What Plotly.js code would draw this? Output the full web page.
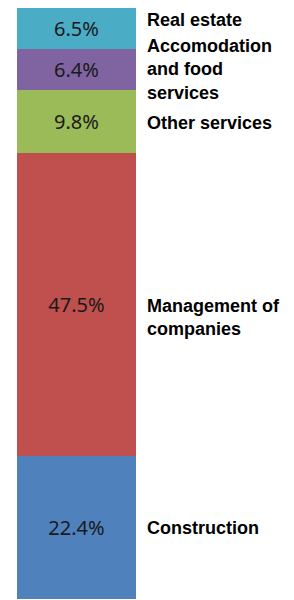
<!DOCTYPE html>
<html>
<head>
<meta charset="utf-8">
<script src="https://cdn.plot.ly/plotly-3.0.1.min.js"></script>
<style>html,body{margin:0;padding:0;background:#fff;}#chart{width:294px;height:600px;}</style>
</head>
<body>
<div id="chart"></div>
<script>
// Data (bottom to top)
const categories = ["Construction", "Management of<br>companies", "Other services", "Accomodation<br>and food<br>services", "Real estate"];
const shares = [22.4, 47.5, 9.8, 6.4, 6.5];
const valueLabels = ["22.4%", "47.5%", "9.8%", "6.4%", "6.5%"];

const colors = ["#4F81BD", "#C0504D", "#9BBB59", "#8064A2", "#4BACC6"];
const labelShift = [0, -13, -1, 0, 9];

const traces = shares.map((v, i) => ({
  type: "bar",
  x: ["All"],
  y: [v],
  name: categories[i],
  text: [valueLabels[i]],
  textposition: "inside",
  insidetextanchor: "middle",
  textangle: 0,
  textfont: {family: "Noto Sans, sans-serif", size: 20, color: "#1a1a1a"},
  marker: {color: colors[i], line: {width: 0}},
  hoverinfo: "none"
}));

const total = shares.reduce((a, b) => a + b, 0);
let cum = 0;
const annotations = shares.map((v, i) => {
  const mid = cum + v / 2;
  cum += v;
  return {
    xref: "paper", yref: "y",
    x: (145 - 17) / 277, y: mid,
    xanchor: "left", yanchor: "middle",
    yshift: labelShift[i],
    text: categories[i],
    align: "left",
    showarrow: false,
    font: {family: "Liberation Sans, Arial, sans-serif", size: 18, weight: "bold", color: "#000"}
  };
});

const layout = {
  width: 294, height: 600,
  margin: {l: 17, r: 0, t: 8, b: 1, pad: 0},
  barmode: "stack",
  bargap: 0,
  showlegend: false,
  paper_bgcolor: "#fff",
  plot_bgcolor: "#fff",
  uniformtext: {mode: false},
  xaxis: {domain: [0, 119 / 277], range: [-0.5, 0.5], visible: false, fixedrange: true},
  yaxis: {range: [0, total], visible: false, fixedrange: true},
  annotations: annotations
};

Plotly.newPlot("chart", traces, layout, {displayModeBar: false, staticPlot: true});
</script>
</body>
</html>
